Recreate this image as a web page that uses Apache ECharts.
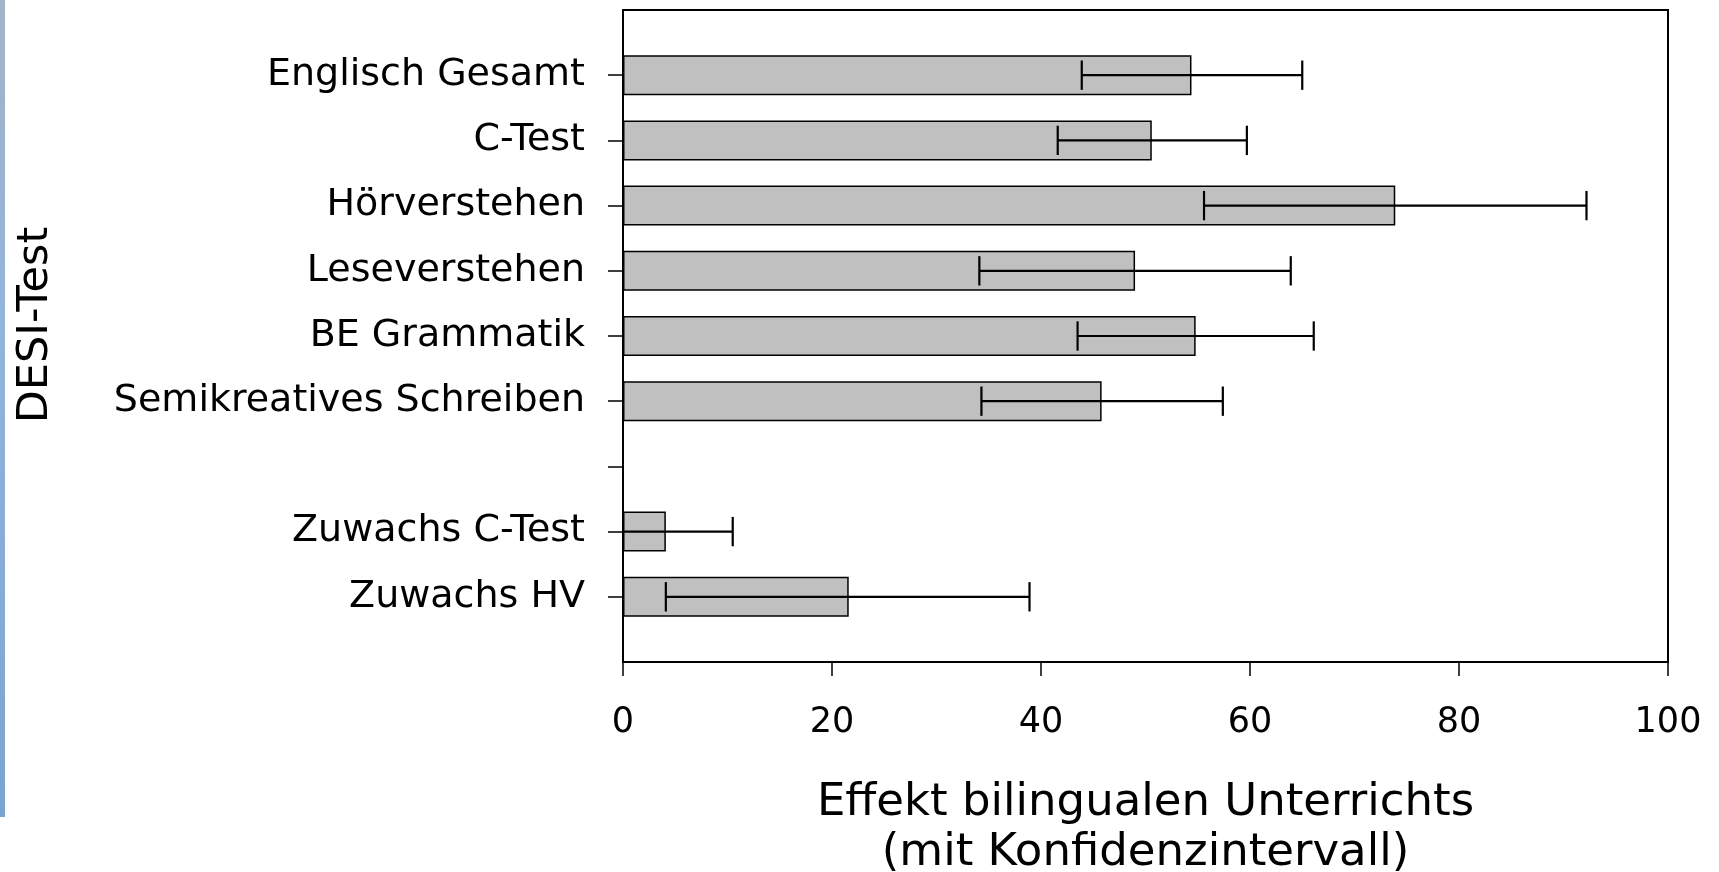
<!DOCTYPE html>
<html>
<head>
<meta charset="utf-8">
<title>DESI-Test</title>
<script src="https://cdn.jsdelivr.net/npm/echarts@6/dist/echarts.min.js"></script>
<style>
    html, body {
        margin: 0;
        padding: 0;
        background: #ffffff;
    }
    #chart {
        width: 1719px;
        height: 872px;
    }
</style>
</head>
<body>
<div id="chart"></div>
<script>
    // Kategorien (leerer Eintrag = Lücke zwischen den Gruppen)
    const categories = ['Englisch Gesamt', 'C-Test', 'Hörverstehen', 'Leseverstehen', 'BE Grammatik',
        'Semikreatives Schreiben', '', 'Zuwachs C-Test', 'Zuwachs HV']
    // Effekt bilingualen Unterrichts
    const effect = [54.4, 50.6, 73.9, 49.0, 54.8, 45.8, null, 4.1, 21.6]
    // Konfidenzintervall
    const ciLow = [43.9, 41.6, 55.6, 34.1, 43.5, 34.3, null, -1.5, 4.1]
    const ciHigh = [65.0, 59.7, 92.2, 63.9, 66.1, 57.4, null, 10.5, 38.9]
    const xTicks = [0, 20, 40, 60, 80, 100]

    const fontFamily = 'DejaVu Sans'

    // leere Plätze oben und unten, damit die Balken wie im Original sitzen
    let axisCats = [' '].concat(categories.map(c => c === '' ? '  ' : c)).concat(['   '])
    let barData = [null].concat(effect).concat([null])
    let errData = []
    categories.forEach((c, i) => {
        if (ciLow[i] != null) errData.push([i + 1, ciLow[i], ciHigh[i]])
    })

    let myChart = echarts.init(document.getElementById('chart'))

    let option = {
        backgroundColor: '#ffffff',
        animation: false,
        graphic: [{
            // blauer Folienrand links
            type: 'rect',
            left: 0,
            top: 0,
            shape: { x: 0, y: 0, width: 5, height: 817 },
            style: {
                fill: new echarts.graphic.LinearGradient(0, 0, 0, 1, [
                    { offset: 0, color: '#a3b3c8' },
                    { offset: 0.4, color: '#93b5dc' },
                    { offset: 1, color: '#7ba3d2' }
                ])
            },
            silent: true
        }],
        grid: {
            left: 623,
            right: 51,
            top: 10,
            bottom: 210,
            show: true,
            borderColor: '#000000',
            borderWidth: 2,
            backgroundColor: 'transparent',
            outerBoundsMode: 'none'
        },
        xAxis: {
            type: 'value',
            min: xTicks[0],
            max: xTicks[xTicks.length - 1],
            interval: 20,
            name: 'Effekt bilingualen Unterrichts\n(mit Konfidenzintervall)',
            nameLocation: 'middle',
            nameGap: 116,
            nameTextStyle: {
                color: '#000000',
                fontFamily: fontFamily,
                fontSize: 45,
                lineHeight: 50
            },
            axisLine: {
                show: true,
                lineStyle: { color: '#000000', width: 2 }
            },
            axisTick: {
                show: true,
                length: 14,
                lineStyle: { color: '#000000', width: 1.5 }
            },
            axisLabel: {
                color: '#000000',
                fontFamily: fontFamily,
                fontSize: 35,
                margin: 43
            },
            splitLine: { show: false }
        },
        yAxis: {
            type: 'category',
            inverse: true,
            boundaryGap: false,
            data: axisCats,
            name: 'DESI-Test',
            nameLocation: 'middle',
            nameRotate: 90,
            nameGap: 566,
            nameTextStyle: {
                color: '#000000',
                fontFamily: fontFamily,
                fontSize: 43,
                padding: [0, 0, 0, 22]
            },
            axisLine: {
                show: true,
                lineStyle: { color: '#000000', width: 2 }
            },
            axisTick: {
                show: true,
                length: 15,
                interval: function (index) {
                    return index > 0 && index < axisCats.length - 1
                },
                lineStyle: { color: '#000000', width: 1.5 }
            },
            axisLabel: {
                interval: 0,
                color: '#000000',
                fontFamily: fontFamily,
                fontSize: 38,
                margin: 38,
                padding: [8, 0, 0, 0]
            },
            splitLine: { show: false }
        },
        series: [{
            type: 'bar',
            data: barData,
            barWidth: 40,
            itemStyle: {
                color: '#c0c0c0',
                borderColor: '#000000',
                borderWidth: 1.5
            },
            z: 2
        }, {
            type: 'custom',
            clip: true,
            data: errData,
            encode: { x: [1, 2], y: 0 },
            z: 3,
            renderItem: function (params, api) {
                let yIdx = api.value(0)
                let lo = api.coord([api.value(1), yIdx])
                let hi = api.coord([api.value(2), yIdx])
                let half = api.size([0, 1])[1] * 0.225
                let style = { stroke: '#000000', lineWidth: 2.2, fill: null }
                return {
                    type: 'group',
                    children: [{
                        type: 'line',
                        shape: { x1: lo[0], y1: lo[1], x2: hi[0], y2: hi[1] },
                        style: style
                    }, {
                        type: 'line',
                        shape: { x1: lo[0], y1: lo[1] - half, x2: lo[0], y2: lo[1] + half },
                        style: style
                    }, {
                        type: 'line',
                        shape: { x1: hi[0], y1: hi[1] - half, x2: hi[0], y2: hi[1] + half },
                        style: style
                    }]
                }
            }
        }]
    }

    myChart.setOption(option)

    window.addEventListener('resize', () => {
        myChart.resize()
    })
</script>
</body>
</html>
